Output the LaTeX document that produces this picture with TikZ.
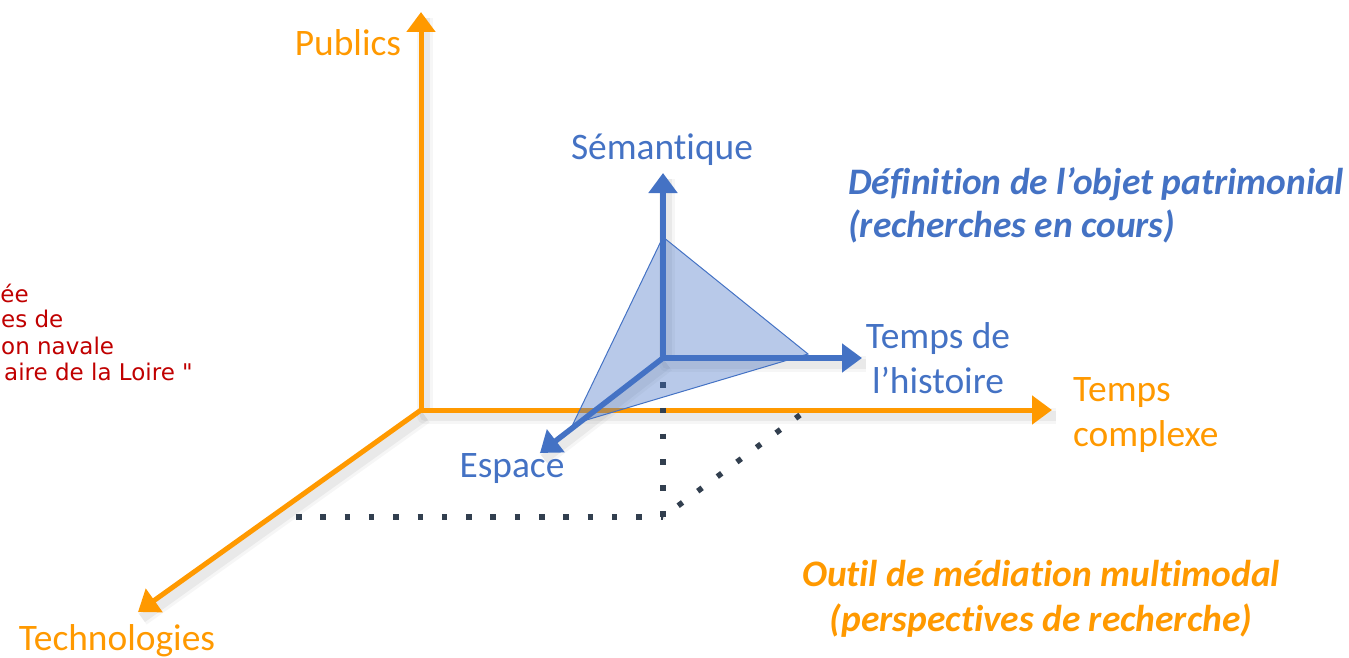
\documentclass[tikz,border=0pt]{standalone}
\usepackage{fontspec}
\setmainfont{Carlito}[RawFeature={-liga}]
\newfontfamily\redfont{DejaVu Sans}
\usetikzlibrary{arrows.meta}
\definecolor{orng}{HTML}{FF9900}
\definecolor{blu}{HTML}{4472C4}
\definecolor{redt}{HTML}{C00000}
\definecolor{dotc}{HTML}{323F4F}
\begin{document}
\begin{tikzpicture}[x=1pt,y=-1pt,
  oaxis/.style={draw=orng,line width=5pt,-{Triangle[length=20pt,width=28pt]}},
  baxis/.style={draw=blu,line width=5.5pt,-{Triangle[length=20pt,width=28pt]}},
  dotline/.style={draw=dotc,line width=5.5pt,dash pattern=on 5.5pt off 18.8pt},
  dotvert/.style={draw=dotc,line width=5.5pt,dash pattern=on 5.5pt off 20.3pt},
  shdA/.style={draw=black,opacity=0.035,line width=16pt,line join=round},
  shdB/.style={draw=black,opacity=0.05,line width=10pt,line join=round},
  lbl/.style={inner sep=0pt,font=\fontsize{37.4}{45}\selectfont},
  olbl/.style={lbl,text=orng},
  blbl/.style={lbl,text=blu},
  redl/.style={inner sep=0pt,anchor=east,text=redt,font=\redfont\fontsize{23}{26}\selectfont}]
\useasboundingbox (0,0) rectangle (1349,658);
% coordinates
\coordinate (O) at (421,410);
\coordinate (Pub) at (421,12);
\coordinate (TC) at (1052,410);
\coordinate (Tech) at (138,612);
\coordinate (B) at (663,358);
\coordinate (Sem) at (663,173);
\coordinate (TH) at (862,358);
\coordinate (Esp) at (540,453);
\coordinate (V1) at (663,237);
\coordinate (V2) at (808,354);
\coordinate (V3) at (573,424);
\coordinate (D0) at (663,382);
\coordinate (D1) at (663,517);
\coordinate (D2) at (296,517);
\coordinate (D3) at (800,415);
% soft shadows
\foreach \s in {shdA,shdB}{
  \draw[\s] ([shift={(4,6)}]Pub) -- ([shift={(4,6)}]O) -- ([shift={(4,6)}]TC);
  \draw[\s] ([shift={(4,6)}]O) -- ([shift={(4,6)}]Tech);
  \draw[\s] ([shift={(4,6)}]Sem) -- ([shift={(4,6)}]B) -- ([shift={(4,6)}]TH);
  \draw[\s] ([shift={(4,6)}]B) -- ([shift={(4,6)}]Esp);
}
% orange axes
\draw[oaxis] (O) -- (Pub);
\draw[oaxis] (O) -- (TC);
\draw[oaxis] (O) -- (Tech);
% dotted projections
\draw[dotvert] (D0) -- (D1);
\draw[dotline] (D2) -- (D1);
\draw[dotline,dash pattern=on 5.5pt off 18.9pt] (D3) -- (D1);
% triangle
\filldraw[fill=blu,fill opacity=0.38,draw=blu,line width=1pt] (V1) -- (V2) -- (V3) -- cycle;
% blue axes
\draw[baxis] (B) -- (Sem);
\draw[baxis] (B) -- (TH);
\draw[baxis] (B) -- (Esp);
% labels
\node[olbl] (lPub) at (348,43) {Publics};
\node[olbl] (lTech) at (117,641) {Technologies};
\node[olbl,align=left,anchor=west] (lTC) at (1073,415) {Temps\\complexe};
\node[blbl] (lSem) at (662,150) {Sémantique};
\node[blbl,align=center] (lTH) at (938,358) {Temps de\\l’histoire};
\node[blbl] (lEsp) at (512,469) {Espace};
\node[lbl,text=blu,anchor=west,align=left,font=\fontsize{37.4}{43}\bfseries\itshape\selectfont] (lDef) at (848,205) {Définition de l’objet patrimonial\\(recherches en cours)};
\node[lbl,text=orng,align=center,font=\fontsize{37.4}{45}\bfseries\itshape\selectfont] (lOut) at (1041,599) {Outil de médiation multimodal\\(perspectives de recherche)};
\node[redl] (r1) at (29,293) {ée};
\node[redl,anchor=west] (r2) at (1,319) {es de};
\node[redl,anchor=west] (r3) at (1,346) {on navale};
\node[redl] (r4) at (193,372) {aire de la Loire "};
\end{tikzpicture}
\end{document}
